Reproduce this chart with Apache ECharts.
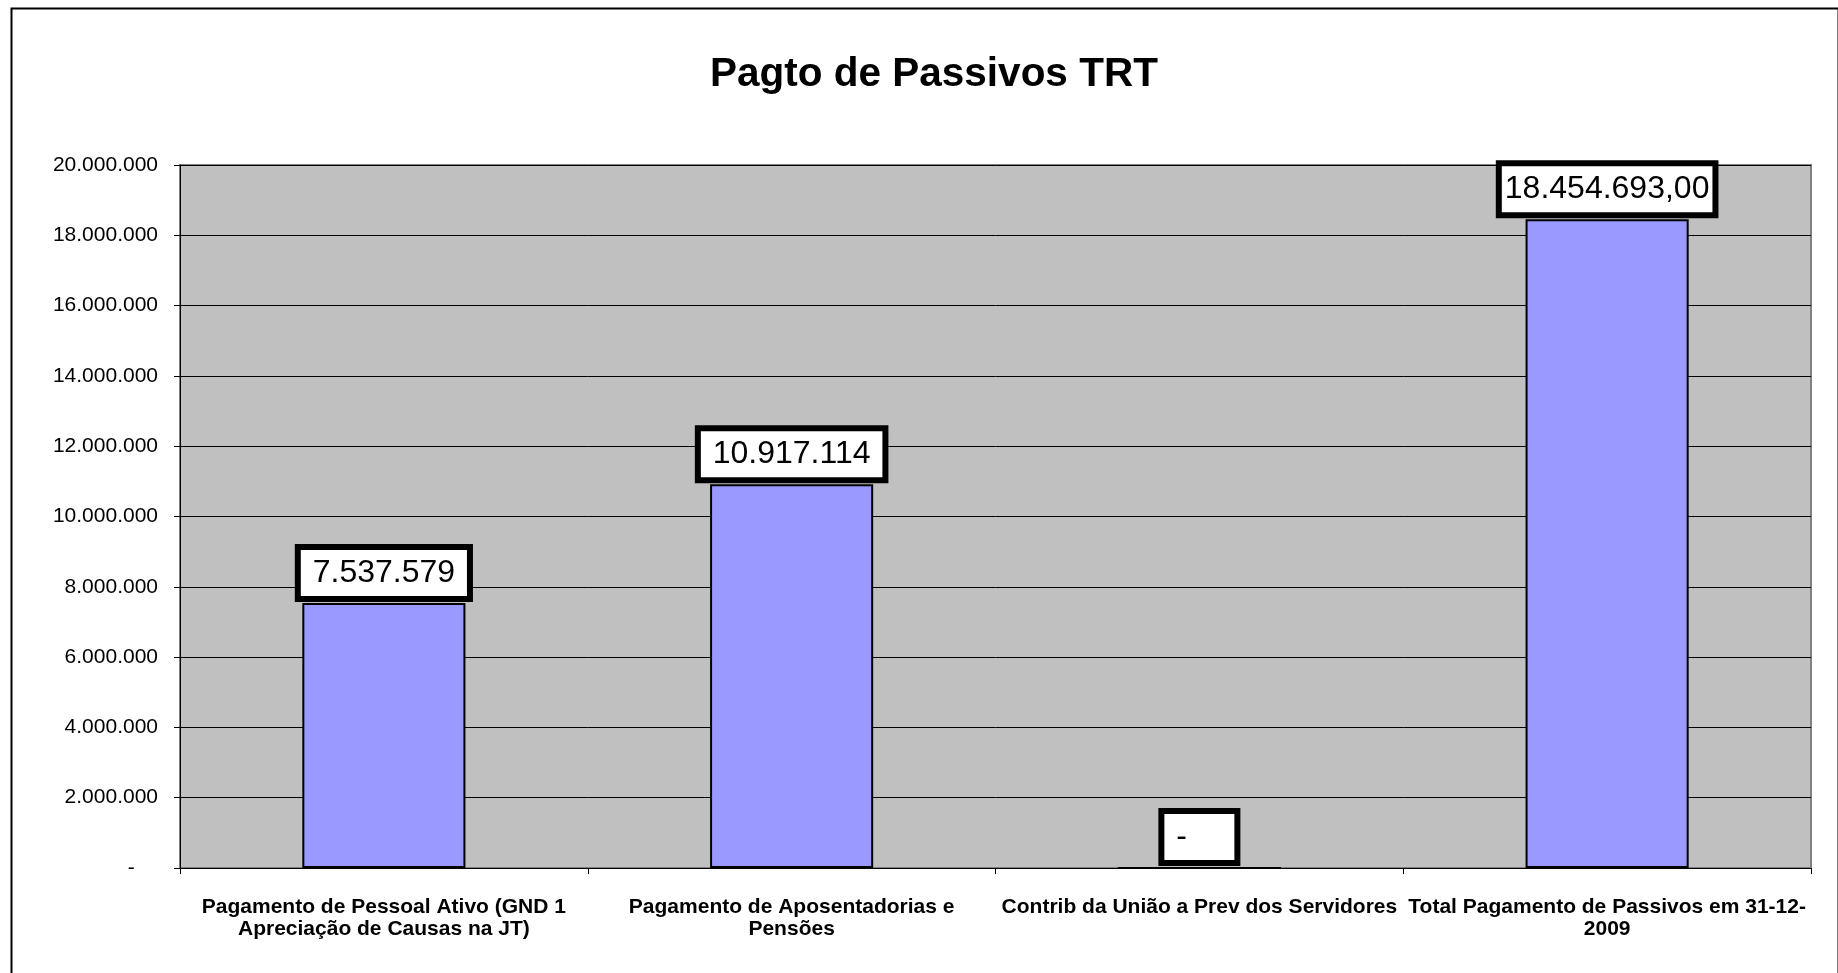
<!DOCTYPE html>
<html>
<head>
<meta charset="utf-8">
<title>Pagto de Passivos TRT</title>
<script src="https://cdn.jsdelivr.net/npm/echarts@6/dist/echarts.min.js"></script>
<style>
  html, body { margin: 0; padding: 0; background: #fff; }
  #chart { width: 1838px; height: 973px; }
</style>
</head>
<body>
<div id="chart"></div>
<script>
// chart data
var categories = [
  "Pagamento de Pessoal Ativo (GND 1\nApreciação de Causas na JT)",
  "Pagamento de Aposentadorias e\nPensões",
  "Contrib da União a Prev dos Servidores",
  "Total Pagamento de Passivos em 31-12-\n2009"
];
var values = [7537579, 10917114, 0, 18454693];
// data labels as shown (accounting format keeps the padding spaces)
var labelTexts = [" 7.537.579 ", " 10.917.114 ", " -     ", "18.454.693,00"];

var FONT = "'Liberation Sans', Arial, sans-serif";

function fmtAxis(v) {
  if (v === 0) return "-    ";
  return String(v).replace(/\B(?=(\d{3})+(?!\d))/g, ".");
}

var chart = echarts.init(document.getElementById("chart"));

chart.setOption({
  animation: false,
  backgroundColor: "#fff",
  textStyle: { fontFamily: FONT },
  title: {
    text: "Pagto de Passivos TRT",
    left: 705,
    top: 49,
    textStyle: {
      fontFamily: FONT,
      fontSize: 40.5,
      fontWeight: "bold",
      color: "#000"
    }
  },
  graphic: [
    {
      type: "rect",
      left: 9,
      top: 6,
      shape: { width: 1827, height: 985 },
      style: { fill: "none", stroke: "#000", lineWidth: 2 },
      silent: true
    }
  ],
  grid: {
    left: 180,
    right: 27,
    top: 165,
    bottom: 105,
    show: true,
    backgroundColor: "#C0C0C0",
    borderColor: "#808080",
    borderWidth: 2
  },
  xAxis: {
    type: "category",
    data: categories,
    axisLine: { lineStyle: { color: "#000", width: 1 } },
    axisTick: { show: true, length: 6, lineStyle: { color: "#000" } },
    axisLabel: {
      interval: 0,
      margin: 28,
      color: "#000",
      fontFamily: FONT,
      fontSize: 21,
      fontWeight: "bold",
      lineHeight: 22,
      align: "center"
    }
  },
  yAxis: {
    type: "value",
    min: 0,
    max: 20000000,
    interval: 2000000,
    axisLine: { show: true, lineStyle: { color: "#000", width: 1 } },
    axisTick: { show: true, length: 6, lineStyle: { color: "#000" } },
    splitLine: { show: true, lineStyle: { color: "#000", width: 1 } },
    axisLabel: {
      margin: 22,
      color: "#000",
      fontFamily: FONT,
      fontSize: 21,
      formatter: fmtAxis
    }
  },
  series: [
    {
      type: "bar",
      data: values,
      barWidth: "40%",
      itemStyle: {
        color: "#9999FF",
        borderColor: "#000",
        borderWidth: 2
      },
      label: {
        show: true,
        position: "top",
        distance: 7,
        formatter: function (p) { return labelTexts[p.dataIndex]; },
        color: "#000",
        fontFamily: FONT,
        fontSize: 32,
        lineHeight: 32,
        backgroundColor: "#fff",
        borderColor: "#000",
        borderWidth: 6,
        padding: [7, 3]
      }
    }
  ]
});
</script>
</body>
</html>
